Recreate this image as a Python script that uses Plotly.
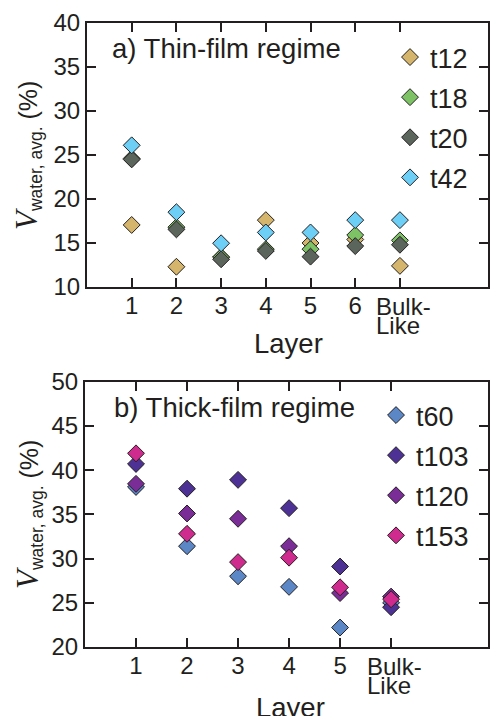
import plotly.graph_objects as go

# ---------------- data ----------------
layers_a = ["1", "2", "3", "4", "5", "6", "Bulk-Like"]
layers_b = ["1", "2", "3", "4", "5", "Bulk-Like"]

names_a = ["t12", "t18", "t20", "t42"]
t12 = [17.05, 12.3, 13.4, 17.6, 15.0, 15.4, 12.4]
t18 = [24.6, 16.8, 13.4, 14.3, 14.3, 15.9, 15.3]
t20 = [24.5, 16.55, 13.15, 14.1, 13.45, 14.65, 14.8]
t42 = [26.1, 18.5, 14.97, 16.2, 16.2, 17.6, 17.6]
values_a = [t12, t18, t20, t42]
colors_a = ["#D5B56B", "#7DC366", "#5B655B", "#6DCFF6"]

names_b = ["t60", "t103", "t120", "t153"]
t60 = [38.1, 31.4, 28.0, 26.8, 22.2, 25.0]
t103 = [40.7, 37.9, 38.9, 35.7, 29.1, 24.5]
t120 = [38.45, 35.1, 34.5, 31.4, 26.1, 25.7]
t153 = [41.9, 32.8, 29.6, 30.1, 26.75, 25.4]
values_b = [t60, t103, t120, t153]
colors_b = ["#5B87C6", "#4E3194", "#7A2C97", "#CF2A8E"]

yticks_a = [10, 15, 20, 25, 30, 35, 40]
yticks_b = [20, 25, 30, 35, 40, 45, 50]

# ---------------- style ----------------
W, H = 490, 716
INK = "#231F20"
FONT = "Liberation Sans, Arial, sans-serif"


def px_x(p):
    return p / W


def px_y(p):
    return 1 - p / H


def display_labels(cats):
    # last category drawn separately as two left-aligned lines
    return [c if c != "Bulk-Like" else "" for c in cats]


fig = go.Figure()

for name, vals, col in zip(names_a, values_a, colors_a):
    fig.add_trace(go.Scatter(
        x=layers_a, y=vals, mode="markers", name=name,
        xaxis="x", yaxis="y", legend="legend", legendgroup=name,
        marker=dict(symbol="diamond", size=13, color=col,
                    line=dict(color=INK, width=1)),
    ))

for name, vals, col in zip(names_b, values_b, colors_b):
    fig.add_trace(go.Scatter(
        x=layers_b, y=vals, mode="markers", name=name,
        xaxis="x2", yaxis="y2", legend="legend2", legendgroup=name,
        marker=dict(symbol="diamond", size=13, color=col,
                    line=dict(color=INK, width=1)),
    ))

axis_common = dict(
    showline=True, linecolor=INK, linewidth=2, mirror="ticks",
    ticks="inside", ticklen=9, tickwidth=1.5, tickcolor=INK,
    showgrid=False, zeroline=False, automargin=False,
    tickfont=dict(family=FONT, size=24, color=INK),
)

fig.update_layout(
    width=W, height=H, autosize=False,
    margin=dict(l=0, r=0, t=0, b=0, pad=0, autoexpand=False),
    paper_bgcolor="white", plot_bgcolor="white",
    font=dict(family=FONT, color=INK),
    xaxis=dict(axis_common, domain=[px_x(87), px_x(488)], anchor="y",
               type="category", categoryorder="array", categoryarray=layers_a,
               tickvals=layers_a, ticktext=display_labels(layers_a),
               range=[-1, 7.97], ticklabelstandoff=-4),
    yaxis=dict(axis_common, domain=[px_y(287), px_y(23)], anchor="x",
               range=[10, 40], tickvals=yticks_a, ticklabelstandoff=0),
    xaxis2=dict(axis_common, domain=[px_x(85), px_x(488)], anchor="y2",
                type="category", categoryorder="array", categoryarray=layers_b,
                tickvals=layers_b, ticktext=display_labels(layers_b),
                range=[-1, 6.9], ticklabelstandoff=-4),
    yaxis2=dict(axis_common, domain=[px_y(647), px_y(381.7)], anchor="x2",
                range=[20, 50], tickvals=yticks_b, ticklabelstandoff=0),
    legend=dict(x=px_x(390), y=px_y(33), xanchor="left", yanchor="top",
                bgcolor="rgba(0,0,0,0)", borderwidth=0,
                font=dict(family=FONT, size=27, color=INK),
                tracegroupgap=2),
    legend2=dict(x=px_x(376), y=px_y(391), xanchor="left", yanchor="top",
                 bgcolor="rgba(0,0,0,0)", borderwidth=0,
                 font=dict(family=FONT, size=27, color=INK),
                 tracegroupgap=2),
    showlegend=True,
)

ytitle = ("<span style=\"font-family:'Liberation Serif',serif;font-style:italic;"
          "font-size:31px\">V</span><sub>water, avg.</sub> (%)")

annotations = [
    dict(text="a) Thin-film regime", x=px_x(110), y=px_y(48), xref="paper", yref="paper",
         xanchor="left", yanchor="middle", showarrow=False,
         font=dict(family=FONT, size=27.5, color=INK)),
    dict(text="b) Thick-film regime", x=px_x(112), y=px_y(407), xref="paper", yref="paper",
         xanchor="left", yanchor="middle", showarrow=False,
         font=dict(family=FONT, size=27.5, color=INK)),
    dict(text="Layer", x=px_x(288), y=px_y(343), xref="paper", yref="paper",
         xanchor="center", yanchor="middle", showarrow=False,
         font=dict(family=FONT, size=27.5, color=INK)),
    dict(text="Layer", x=px_x(290), y=px_y(707), xref="paper", yref="paper",
         xanchor="center", yanchor="middle", showarrow=False,
         font=dict(family=FONT, size=27.5, color=INK)),
    dict(text=ytitle, x=px_x(28), y=px_y(156), xref="paper", yref="paper",
         xanchor="center", yanchor="middle", textangle=-90, showarrow=False,
         font=dict(family=FONT, size=25, color=INK)),
    dict(text=ytitle, x=px_x(28), y=px_y(515), xref="paper", yref="paper",
         xanchor="center", yanchor="middle", textangle=-90, showarrow=False,
         font=dict(family=FONT, size=25, color=INK)),
]

# two-line, left-aligned label for the bulk-like category
for xref, cats, y_mid in (("x", layers_a, 306), ("x2", layers_b, 666)):
    first, second = cats[-1].split("-")
    for txt, dy in ((first + "-", 0), (second, 19)):
        annotations.append(dict(text=txt, x=cats[-1], xref=xref, xshift=-25,
                                y=px_y(y_mid + dy), yref="paper",
                                xanchor="left", yanchor="middle", height=19,
                                borderpad=0, showarrow=False,
                                font=dict(family=FONT, size=24, color=INK)))

fig.update_layout(annotations=annotations)

fig.write_html("out.html")
